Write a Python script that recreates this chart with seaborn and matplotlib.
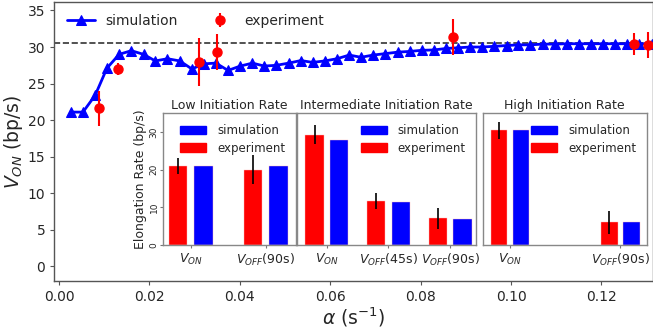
import matplotlib
matplotlib.use("Agg")
import matplotlib.pyplot as plt
import numpy as np
import pandas as pd
import seaborn as sns
from matplotlib.patches import Patch

# main panel: simulated V_ON against initiation rate alpha
sim_alpha = [
    0.0026, 0.0053, 0.0080, 0.0106, 0.0133, 0.0160, 0.0187, 0.0213, 0.0240, 0.0267,
    0.0294, 0.0320, 0.0347, 0.0374, 0.0401, 0.0428, 0.0454, 0.0481, 0.0508, 0.0535,
    0.0561, 0.0588, 0.0615, 0.0642, 0.0668, 0.0695, 0.0722, 0.0749, 0.0776, 0.0802,
    0.0829, 0.0856, 0.0883, 0.0909, 0.0936, 0.0963, 0.0990, 0.1016, 0.1043, 0.1070,
    0.1097, 0.1124, 0.1150, 0.1177, 0.1204, 0.1231, 0.1257, 0.1284, 0.1311,
]
sim_von = [
    21.1, 21.1, 23.4, 27.1, 29.0, 29.5, 29.0, 28.1, 28.4, 28.1,
    27.0, 27.7, 27.8, 26.8, 27.4, 27.8, 27.4, 27.5, 27.8, 28.15,
    27.9, 28.1, 28.4, 28.9, 28.6, 28.9, 29.1, 29.3, 29.4, 29.55,
    29.6, 29.8, 29.9, 30.0, 30.0, 30.1, 30.2, 30.3, 30.3, 30.4,
    30.4, 30.45, 30.45, 30.45, 30.45, 30.45, 30.45, 30.45, 30.45,
]
exp_alpha = [0.0089, 0.0130, 0.0310, 0.0350, 0.0872, 0.1272, 0.1303]
exp_von = [21.6, 27.0, 28.0, 29.3, 31.4, 30.4, 30.3]
exp_err = [2.4, 0.8, 3.3, 2.5, 2.5, 1.5, 1.75]
v_max = 30.5

# inset bar panels
low_labels = ["$V_{ON}$", "$V_{OFF}$(90s)"]
low_exp = [21.0, 20.0]
low_exp_err = [2.2, 3.9]
low_sim = [21.1, 21.1]

mid_labels = ["$V_{ON}$", "$V_{OFF}$(45s)", "$V_{OFF}$(90s)"]
mid_exp = [29.3, 11.6, 7.1]
mid_exp_err = [2.5, 2.1, 2.75]
mid_sim = [28.0, 11.4, 7.0]

high_labels = ["$V_{ON}$", "$V_{OFF}$(90s)"]
high_exp = [30.5, 6.0]
high_exp_err = [2.25, 3.1]
high_sim = [30.5, 6.05]

sns.set_style("white")
plt.rcParams["font.family"] = ["DejaVu Sans"]
plt.rcParams["mathtext.fontset"] = "dejavusans"

W, H = 653, 330
fig = plt.figure(figsize=(W / 100, H / 100), dpi=100)
ax = fig.add_axes([54.3 / W, 1 - 281 / H, (W - 54.3) / W, (281 - 1.7) / H])

sns.lineplot(x=sim_alpha, y=sim_von, ax=ax, color="blue", marker="^", markersize=7,
             markeredgecolor="blue", linewidth=2, label="simulation", sort=False)
ax.errorbar(exp_alpha, exp_von, yerr=exp_err, fmt="o", color="red", ecolor="red",
            markersize=6.5, elinewidth=1.5, capsize=0, label="experiment", zorder=3)
ax.axhline(v_max, color="#333333", linestyle="--", linewidth=1.2, zorder=1)

ax.set_xlim(-0.00104, 0.1314)
ax.set_ylim(-2, 36.2)
ax.set_xticks([0.00, 0.02, 0.04, 0.06, 0.08, 0.10, 0.12])
ax.set_yticks([0, 5, 10, 15, 20, 25, 30, 35])
ax.tick_params(labelsize=10, length=3, color="#555555", direction="out", bottom=True, left=True)
ax.set_xlabel(r"$\alpha$ (s$^{-1}$)", fontsize=13.5, labelpad=1)
ax.set_ylabel("$V_{ON}$ (bp/s)", fontsize=13.5, labelpad=2)
for s in ax.spines.values():
    s.set_color("#555555")
    s.set_linewidth(1.0)
ax.legend(loc="upper left", ncol=2, frameon=False, fontsize=10)


def draw_inset(rect, title, labels, exp_vals, exp_err_vals, sim_vals, xlim, width, gap,
               order=None, show_y=False):
    iax = fig.add_axes(rect)
    df = pd.DataFrame({
        "cond": labels * 2,
        "rate": exp_vals + sim_vals,
        "source": ["experiment"] * len(labels) + ["simulation"] * len(labels),
    })
    sns.barplot(data=df, x="cond", y="rate", hue="source", order=order or labels,
                hue_order=["experiment", "simulation"],
                palette={"experiment": "red", "simulation": "blue"}, saturation=1,
                width=width, gap=gap, errorbar=None, ax=iax, legend=False,
                edgecolor="#ffbbbb", linewidth=0.3)
    exp_bars = iax.containers[0]
    centers = [p.get_x() + p.get_width() / 2 for p in exp_bars.patches]
    iax.errorbar(centers, exp_vals, yerr=exp_err_vals, fmt="none", ecolor="black",
                 elinewidth=1.2, capsize=0)
    iax.set_xlim(*xlim)
    iax.set_ylim(0, 35)
    iax.set_title(title, fontsize=9, pad=3)
    iax.set_xlabel("")
    pos = [(order or labels).index(lab) for lab in labels]
    iax.set_xticks(pos, labels)
    iax.tick_params(axis="x", labelsize=9, length=2, color="#777777", bottom=True, pad=3)
    if show_y:
        iax.set_yticks([0, 10, 20, 30])
        iax.tick_params(axis="y", labelsize=6.5, labelrotation=90, length=2,
                        color="#777777", left=True, pad=1)
        for t in iax.get_yticklabels():
            t.set_va("center")
        iax.set_ylabel("Elongation Rate (bp/s)", fontsize=9, labelpad=2)
    else:
        iax.set_yticks([])
        iax.set_ylabel("")
    for s in iax.spines.values():
        s.set_color("#888888")
        s.set_linewidth(1.0)
    handles = [Patch(color="blue", label="simulation"), Patch(color="red", label="experiment")]
    iax.legend(handles=handles, loc="upper right", frameon=False, fontsize=8.5,
               handlelength=2.2, handletextpad=0.9, labelspacing=0.4)
    return iax


ib = 1 - 245 / H
ih = (245 - 113.3) / H
draw_inset([162.7 / W, ib, 133 / W, ih], "Low Initiation Rate", low_labels,
           low_exp, low_exp_err, low_sim, (-0.375, 1.40), 0.68, 0.29, show_y=True)
draw_inset([297.3 / W, ib, 178.7 / W, ih], "Intermediate Initiation Rate", mid_labels,
           mid_exp, mid_exp_err, mid_sim, (-0.48, 2.42), 0.8, 0.25)
draw_inset([482.7 / W, ib, 164 / W, ih], "High Initiation Rate", high_labels,
           high_exp, high_exp_err, high_sim, (-0.5, 2.48), 0.8, 0.25,
           order=["$V_{ON}$", "$V_{OFF}$(45s)", "$V_{OFF}$(90s)"])

fig.savefig("out.png", dpi=100)
